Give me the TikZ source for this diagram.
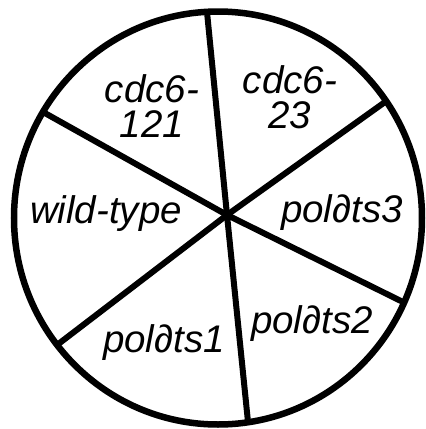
\documentclass[tikz,border=0pt]{standalone}
\usepackage{fontspec}
\setmainfont{Liberation Sans}
\usetikzlibrary{positioning}
\tikzset{
  rim/.style={line width=6.5pt},
  spoke/.style={line width=6pt},
  strain/.style={font=\fontsize{38.5}{35}\selectfont\itshape,
                 align=center,inner sep=0pt},
}
\begin{document}
\begin{tikzpicture}[x=1pt,y=-1pt]
  \useasboundingbox (0,0) rectangle (426,429);
  % plate rim
  \draw[rim] (218,218) ellipse [x radius=204, y radius=206.5];
  % sector borders
  \coordinate (hub) at (227,215);
  \coordinate (n)  at (207,12);
  \coordinate (ne) at (385,102);
  \coordinate (se) at (403,302);
  \coordinate (s)  at (248,422);
  \coordinate (sw) at (57,345);
  \coordinate (nw) at (43,112);
  \foreach \e in {n,ne,se,s,sw,nw}
    \draw[spoke] (hub) -- (\e);
  % strains
  \node[strain] (wt)   at (106,213.5) {wild-type};
  \node[strain] (c121) at (152,106.5) {cdc6-\\121};
  \node[strain] (c23)  at (290,97.5)  {cdc6-\\23};
  \node[strain] (ts3)  at (342,212.5) {pol∂ts3};
  \node[strain] (ts2)  at (312,323.5) {pol∂ts2};
  \node[strain] (ts1)  at (164,342.5) {pol∂ts1};
\end{tikzpicture}
\end{document}
